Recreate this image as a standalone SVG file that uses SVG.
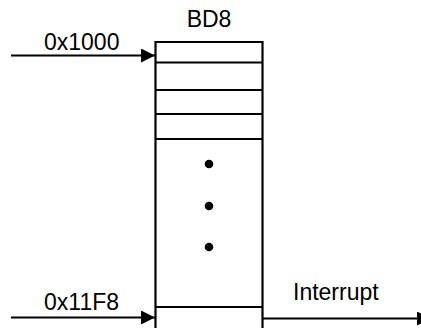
<svg xmlns="http://www.w3.org/2000/svg" width="421" height="328" viewBox="0 0 421 328">
<style>
.ln{stroke:#000;stroke-width:2.2;fill:none}
.t{font-family:"Liberation Sans",Arial,sans-serif;font-size:23px;fill:#000}
.dot{fill:#000}
</style>
<defs>
<marker id="ah" viewBox="0 0 14 14" refX="14" refY="7" markerWidth="14" markerHeight="14" markerUnits="userSpaceOnUse" orient="auto">
<path d="M0,0 L14,7 L0,14 Z" fill="#000"/>
</marker>
</defs>
<rect width="421" height="328" fill="#fff"/>
<g id="bd8">
<path class="ln" d="M155.5,340 V42 H262.5 V340"/>
<path class="ln" d="M155.5,62.5 H262.5 M155.5,90 H262.5 M155.5,114 H262.5 M155.5,139 H262.5 M155.5,307 H262.5"/>
<circle class="dot" cx="209" cy="164" r="4.3"/>
<circle class="dot" cx="209" cy="206" r="4.3"/>
<circle class="dot" cx="209" cy="247" r="4.3"/>
<text class="t" x="209" y="27" text-anchor="middle">BD8</text>
</g>
<g id="connectors">
<line class="ln" x1="11" y1="55.5" x2="155" y2="55.5" marker-end="url(#ah)"/>
<line class="ln" x1="11" y1="317.5" x2="155" y2="317.5" marker-end="url(#ah)"/>
<line class="ln" x1="263" y1="318.5" x2="431" y2="318.5" marker-end="url(#ah)"/>
<text class="t" x="44" y="50">0x1000</text>
<text class="t" x="44" y="310">0x11F8</text>
<text class="t" x="293" y="300">Interrupt</text>
</g>
</svg>
